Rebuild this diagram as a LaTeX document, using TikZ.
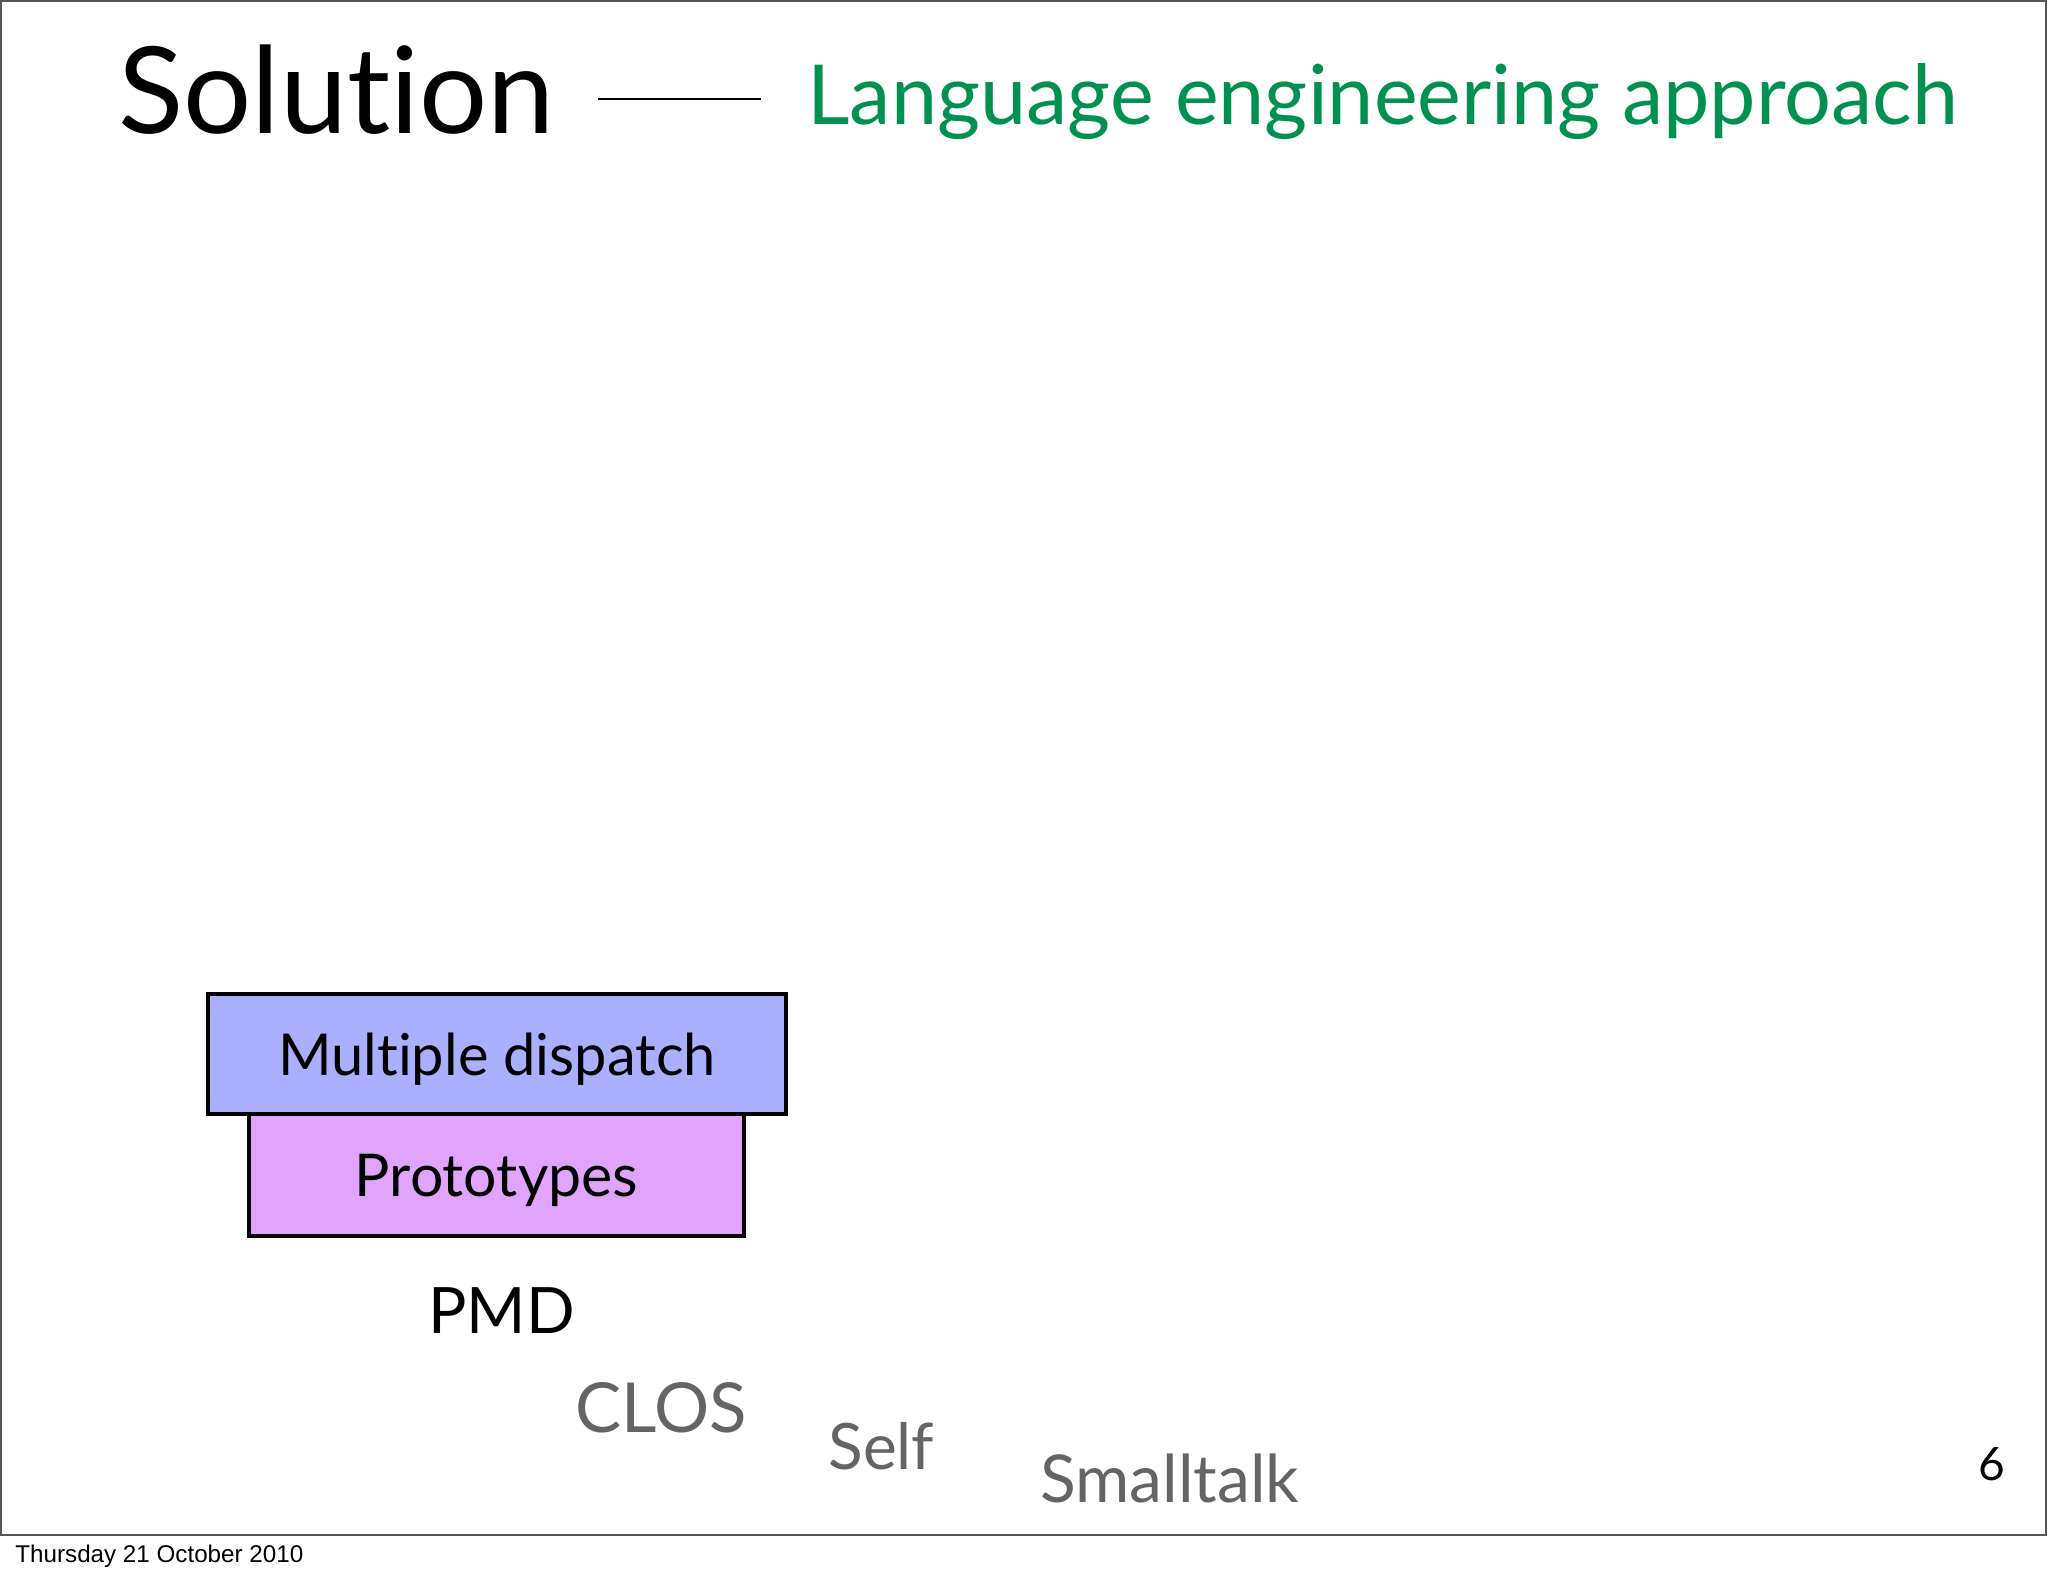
\documentclass[tikz,border=0pt]{standalone}
\usepackage{fontspec}
\setmainfont{Lato}[Ligatures = CommonOff]
\newfontfamily\datefont{Liberation Sans}
\usetikzlibrary{calc}
\definecolor{titlegreen}{RGB}{0,145,80}
\definecolor{langgray}{RGB}{100,100,100}
\definecolor{dispatchblue}{RGB}{170,175,255}
\definecolor{protopink}{RGB}{224,164,252}
\definecolor{framegray}{RGB}{85,85,85}
\tikzset{
  txt/.style = {anchor = base west, inner sep = 0pt},
  layer/.style = {draw = black, line width = 1.7pt, inner sep = 0pt, text height = 21pt, text depth = 0pt, font = \fontsize{29.5}{31}\selectfont},
  lang/.style = {txt, text = langgray, font = \fontsize{33}{35}\selectfont}
}

\begin{document}
\begin{tikzpicture}[x = 0.5pt, y = -0.5pt]

    \useasboundingbox (0,0) rectangle (2048,1576);
    \draw[framegray, line width = 1pt] (1,1) rectangle (2046,1535);

    % heading
    \node[txt, font = \fontsize{60.2}{62}\selectfont] (title) at (118,133) {Solution};
    \coordinate (dashL) at (598,99);
    \coordinate (dashR) at (761,99);
    \draw[black, line width = 1pt] (dashL) -- (dashR);
    \node[txt, text = titlegreen, font = \fontsize{41.4}{44}\selectfont] (subtitle) at (807,124) {Language engineering approach};

    % stack
    \node[layer, fill = protopink, minimum width = 247.5pt, minimum height = 61pt] (proto) at (496.5,1175) {Prototypes};
    \node[layer, fill = dispatchblue, minimum width = 289pt, minimum height = 60pt] (dispatch) at (497,1054) {\fontsize{28.9}{31}\selectfont Multiple dispatch};

    % languages
    \node[txt, font = \fontsize{32}{34}\selectfont] (pmd) at (428,1333) {PMD};
    \node[lang, font = \fontsize{34.5}{36}\selectfont] (clos) at (575,1432) {CLOS};
    \node[lang, font = \fontsize{32}{34}\selectfont] (self) at (828,1469) {Self};
    \node[lang] (smalltalk) at (1040,1502) {Smalltalk};

    \node[txt, font = \fontsize{23}{24}\selectfont] (page) at (1978,1480) {6};
    \node[txt, font = \datefont\fontsize{12.1}{13}\selectfont] (date) at (15,1562) {Thursday 21 October 2010};

\end{tikzpicture}
\end{document}
